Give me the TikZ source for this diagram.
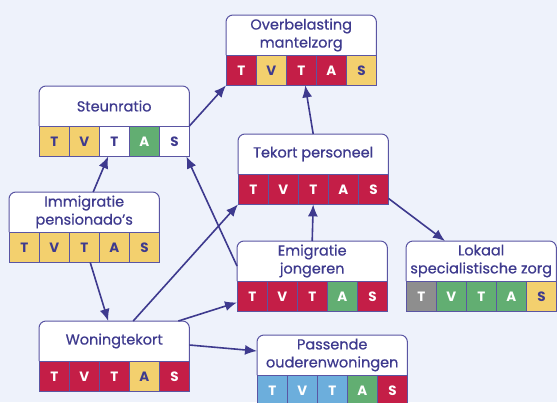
\documentclass[tikz,border=0pt]{standalone}
\usepackage{fontspec}
\setmainfont{Poppins}
\newfontfamily\titlefont[FakeBold=0.6]{Poppins}
\usetikzlibrary{arrows.meta, positioning}

\definecolor{bg}{HTML}{EEF2FB}
\definecolor{ink}{HTML}{3E3A8E}
\definecolor{rim}{HTML}{5A55A3}
\definecolor{hoog}{HTML}{C41E47}
\definecolor{matig}{HTML}{F3D06E}
\definecolor{laag}{HTML}{62AE72}
\definecolor{gunstig}{HTML}{6CAEDC}
\definecolor{onbekend}{HTML}{8E8E8E}
% fill and letter colour per score
\colorlet{lvlfillH}{hoog}     \colorlet{lvltextH}{white}
\colorlet{lvlfillM}{matig}    \colorlet{lvltextM}{ink}
\colorlet{lvlfillL}{laag}     \colorlet{lvltextL}{white}
\colorlet{lvlfillP}{gunstig}  \colorlet{lvltextP}{white}
\colorlet{lvlfillO}{onbekend} \colorlet{lvltextO}{white}
\colorlet{lvlfillW}{white}    \colorlet{lvltextW}{ink}

\tikzstyle{box} = [minimum width=150pt, minimum height=70pt, anchor=north west, inner sep=0pt]
\tikzstyle{title} = [align=center, text=ink, font=\titlefont\fontsize{14.5}{18}\selectfont]
\tikzstyle{cell} = [draw=rim, line width=0.8pt, minimum width=30pt, minimum height=30pt, anchor=north west, inner sep=0pt, font=\fontsize{13.5}{15}\selectfont\bfseries]
\tikzset{lvl/.style={cell, fill=lvlfill#1, text=lvltext#1}}
\tikzstyle{link} = [->, line width=1.6pt, draw=ink]

% name, top left corner, title, scores
\newcommand{\factorbox}[4]{%
  \node[box] (#1) at (#2) {};
  \draw[rim, line width=1pt, fill=white, rounded corners=7pt] ([yshift=-40pt]#1.north west) -- (#1.north west) -- (#1.north east) -- ([yshift=-40pt]#1.north east);
  \node[title] (#1-title) at ([yshift=-20pt]#1.north) {#3};
  \foreach \lvl/\letter [count=\i from 0] in {#4}
    \node[lvl=\lvl] (#1-\i) at ([xshift=\i*30pt, yshift=-40pt]#1.north west) {\letter};
}

\begin{document}
\begin{tikzpicture}[x=1pt, y=-1pt, >={Latex[length=12pt,width=10pt]}]
	\useasboundingbox[fill=bg] (0,0) rectangle (557,402);

	\factorbox{over}{226,15}{Overbelasting\\mantelzorg}{H/T,M/V,H/T,H/A,M/S}
	\factorbox{steun}{39,86}{Steunratio}{M/T,M/V,W/T,L/A,W/S}
	\factorbox{immi}{9,192}{Immigratie\\pensionado’s}{M/T,M/V,M/T,M/A,M/S}
	\factorbox{tekort}{238,134}{Tekort personeel}{H/T,H/V,H/T,H/A,H/S}
	\factorbox{emi}{237,241}{Emigratie\\jongeren}{H/T,H/V,H/T,L/A,H/S}
	\factorbox{lokaal}{406,241}{Lokaal\\specialistische zorg}{O/T,L/V,L/T,L/A,M/S}
	\factorbox{woning}{39,321}{Woningtekort}{H/T,H/V,H/T,M/A,H/S}
	\factorbox{pas}{257,335}{Passende\\ouderenwoningen}{P/T,P/V,P/T,L/A,H/S}

	\draw[link] ([yshift=-40pt]steun.north east) -- (over.south west);
	\draw[link] ([xshift=9pt]immi.north) -- ([xshift=-6pt]steun.south);
	\draw[link] ([xshift=6pt]immi.south) -- ([xshift=-6pt]woning.north);
	\draw[link] ([xshift=19pt]woning.north) -- (tekort.south west);
	\draw[link] ([xshift=-11pt]woning.north east) -- ([yshift=9pt]emi.south west);
	\draw[link] ([yshift=-24pt]woning.north east) -- ([yshift=-16pt]pas.north west);
	\draw[link] ([yshift=-25pt]emi.north west) -- ([xshift=-3pt]steun.south east);
	\draw[link] (emi.north) -- (tekort.south);
	\draw[link] (tekort.north) -- ([xshift=4pt]over.south);
	\draw[link] ([yshift=6pt]tekort.south east) -- ([xshift=39pt]lokaal.north west);
\end{tikzpicture}
\end{document}
